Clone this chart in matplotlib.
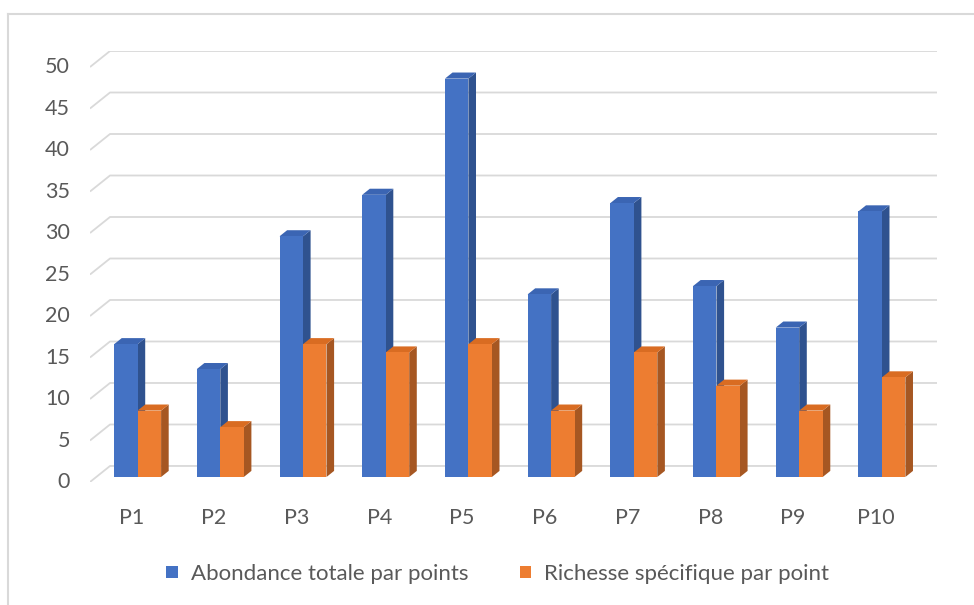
import matplotlib.pyplot as plt
from matplotlib.patches import Polygon, Patch
from matplotlib.lines import Line2D

plt.rcParams['font.family'] = ['Lato', 'DejaVu Sans']

categories = ['P1', 'P2', 'P3', 'P4', 'P5', 'P6', 'P7', 'P8', 'P9', 'P10']
abondance = [16, 13, 29, 34, 48, 22, 33, 23, 18, 32]
richesse = [8, 6, 16, 15, 16, 8, 15, 11, 8, 12]
series_names = ['Abondance totale par points', 'Richesse spécifique par point']
y_ticks = list(range(0, 55, 5))

# face colours: front, top, side
blue = ('#4472C4', '#3B65B3', '#2F528F')
orange = ('#ED7D31', '#D96C22', '#A65722')
grid_c = '#D9D9D9'
text_c = '#595959'

# oblique depth of the back wall (data units)
DX, DY = 0.242, 1.93
# bars sit part way into the depth
BAR_OFF = 0.3125
BAR_DEPTH = 0.38
BAR_W = 0.284

fig = plt.figure(figsize=(9.74, 6.05), dpi=100)
W, H = 974, 605
ax = fig.add_axes([90 / W, (H - 482) / H, (937 - 90) / W, (482 - 51) / H])
ax.set_xlim(-0.5, 9.5 + DX)
ax.set_ylim(0, 50 + DY)
ax.axis('off')

# back wall gridlines with slanted left edge, value labels on the front edge
for v in y_ticks:
    ax.plot([-0.5, -0.5 + DX, 9.5 + DX], [v, v + DY, v + DY],
            color=grid_c, lw=1.3, solid_capstyle='butt', zorder=1)
    ax.text(-0.5 - 20 / 82.7, v, str(v), ha='right', va='center',
            fontsize=15.5, color=text_c)

def draw_bar(x0, val, cols, z):
    ox, oy = BAR_OFF * DX, BAR_OFF * DY
    dx, dy = BAR_DEPTH * DX, BAR_DEPTH * DY
    x0 = x0 + ox
    x1 = x0 + BAR_W
    y0, y1 = oy, val + oy
    front = Polygon([(x0, y0), (x1, y0), (x1, y1), (x0, y1)], closed=True,
                    facecolor=cols[0], edgecolor='none', zorder=z + 0.2)
    top = Polygon([(x0, y1), (x1, y1), (x1 + dx, y1 + dy), (x0 + dx, y1 + dy)],
                  closed=True, facecolor=cols[1], edgecolor='none', zorder=z + 0.1)
    side = Polygon([(x1, y0), (x1 + dx, y0 + dy), (x1 + dx, y1 + dy), (x1, y1)],
                   closed=True, facecolor=cols[2], edgecolor='none', zorder=z)
    for p in (side, top, front):
        ax.add_patch(p)

for i in range(len(categories)):
    draw_bar(i - BAR_W, abondance[i], blue, 2 + i * 2)
    draw_bar(i, richesse[i], orange, 3 + i * 2)
    ax.text(i, -4.3, categories[i], ha='center', va='center',
            fontsize=15.5, color=text_c)

# chart area border (left and top edges)
fig.add_artist(Line2D([8 / W, 8 / W], [0, (H - 14) / H], color=grid_c, lw=1.5))
fig.add_artist(Line2D([8 / W, 1], [(H - 14) / H, (H - 14) / H], color=grid_c, lw=1.5))

handles = [Patch(facecolor=blue[0]), Patch(facecolor=orange[0])]
fig.legend(handles, series_names, loc='center', bbox_to_anchor=(0.511, (H - 574) / H),
           ncol=2, frameon=False, fontsize=16, labelcolor=text_c,
           handlelength=0.5, handleheight=0.5, handletextpad=0.6, columnspacing=2.3)

fig.savefig('out.png', dpi=100)
